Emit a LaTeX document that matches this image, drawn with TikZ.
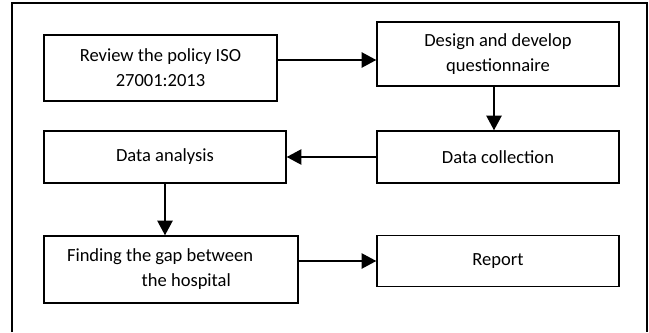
\documentclass[tikz,border=0pt]{standalone}
\usepackage{fontspec}
\setmainfont{Carlito}
\usetikzlibrary{arrows.meta,calc}

\begin{document}
\begin{tikzpicture}[x=0.75pt,y=-0.75pt,>={Triangle[length=11pt,width=11.5pt]},
  font=\fontsize{13.9}{18.75}\selectfont,
  box/.style={draw,line width=1.1pt,align=center,inner sep=0pt},
  arr/.style={->,line width=1.15pt}]
\useasboundingbox (0,0) rectangle (649,332);
% frame
\draw[line width=1.5pt] (12,332) -- (12,3) -- (647,3) -- (647,332);
% top row
\node[box,minimum width=233*0.75pt,minimum height=66*0.75pt] (review) at (160.5,68)
  {Review the policy ISO\\27001:2013};
\node[box,minimum width=242*0.75pt,minimum height=64*0.75pt] (design) at (498,54)
  {Design and develop\\questionnaire};
% middle row
\node[box,minimum width=242*0.75pt,minimum height=52*0.75pt] (collect) at (498,157)
  {Data collection};
\node[box,minimum width=242*0.75pt,minimum height=52*0.75pt] (analysis) at (165,157)
  {Data analysis};
% bottom row
\node[box,minimum width=254*0.75pt,minimum height=67*0.75pt,text width=208*0.75pt,align=flush left]
  (gap) at (171,269.5) {Finding the gap between\\\hspace*{56pt}the hospital};
\node[box,minimum width=242*0.75pt,minimum height=51*0.75pt] (report) at (498,261)
  {Report};
% arrows
\coordinate (r1) at ($(review.east)+(0,-8)$);
\draw[arr] (r1) -- (r1 -| design.west);
\draw[arr] ([xshift=-3pt]design.south) -- ([xshift=-3pt]collect.north);
\draw[arr] (collect.west) -- (analysis.east);
\draw[arr] (analysis.south) -- (analysis.south |- gap.north);
\draw[arr] (report.west -| gap.east) -- (report.west);
\end{tikzpicture}
\end{document}
